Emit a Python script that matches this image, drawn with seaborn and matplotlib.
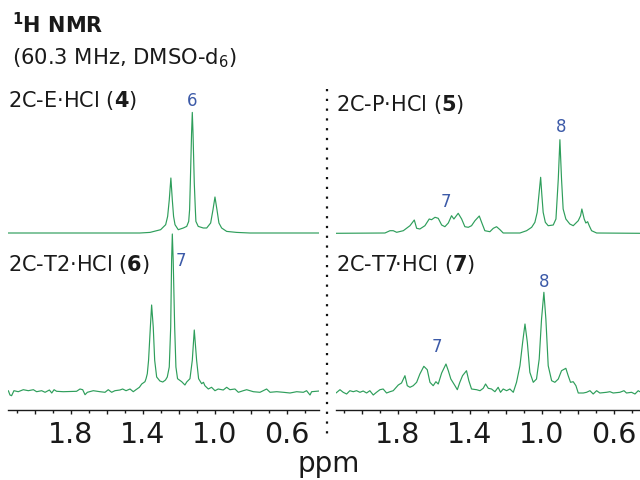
import numpy as np
import pandas as pd
import matplotlib
matplotlib.use("Agg")
import matplotlib.pyplot as plt
import seaborn as sns
from matplotlib.ticker import FixedLocator, FixedFormatter
from matplotlib.lines import Line2D
from matplotlib.transforms import blended_transform_factory

sns.set_style("white")
plt.rcParams['font.family'] = ['DejaVu Sans']
plt.rcParams['mathtext.fontset'] = 'dejavusans'

# ---------------- data ----------------
# 2C-E·HCl (4)
ppm4 = [2.15, 1.417, 1.361, 1.302, 1.274, 1.263, 1.254, 1.245, 1.237, 1.230, 1.222,
        1.204, 1.176, 1.157, 1.146, 1.141, 1.137, 1.130, 1.126, 1.122, 1.115, 1.109,
        1.106, 1.093, 1.065, 1.046, 1.024, 1.011, 1.000, 0.989, 0.978, 0.963, 0.935,
        0.880, 0.806, 0.42]
int4 = [0, 0, 0.6, 3.3, 8.3, 16.6, 33, 55, 33, 16.6, 8.3,
        3.3, 5, 6.6, 11.6, 23.3, 50, 100, 120.6, 100, 50, 23.3,
        11.6, 6.6, 5, 5, 10, 23.3, 36, 23.3, 10, 5, 1.6,
        0.6, 0, 0]

# 2C-P·HCl (5)
ppm5 = [2.144, 1.872, 1.844, 1.826, 1.807, 1.770, 1.733, 1.709, 1.696, 1.678, 1.650,
        1.626, 1.613, 1.594, 1.576, 1.557, 1.539, 1.520, 1.502, 1.489, 1.465, 1.446,
        1.428, 1.409, 1.391, 1.372, 1.348, 1.335, 1.317, 1.289, 1.270, 1.252, 1.233,
        1.215, 1.122, 1.085, 1.057, 1.039, 1.026, 1.017, 1.007, 1.000, 0.993, 0.981,
        0.965, 0.937, 0.922, 0.909, 0.900, 0.891, 0.882, 0.867, 0.845, 0.826, 0.798,
        0.785, 0.778, 0.765, 0.756, 0.746, 0.737, 0.724, 0.696, 0.456]
int5 = [0, 0.3, 2.6, 2.6, 1.0, 2.6, 7.6, 13.3, 5.0, 4.3, 7.6,
        14.3, 13.6, 16.0, 15.0, 8.3, 6.6, 10.3, 17.6, 14.3, 20.0, 14.3,
        6.6, 6.0, 7.6, 12.6, 17.3, 11.0, 2.6, 1.6, 5.0, 6.6, 3.6,
        0.3, 0.3, 2.6, 6, 11, 21, 37.6, 56, 37.6, 21, 11,
        7.6, 8.3, 14.3, 54.3, 93.6, 54.3, 24.3, 14.3, 9.3, 7.6, 12.6,
        17.6, 24.3, 14.3, 10.3, 11.6, 7.6, 2.6, 0.3, 0]

# 2C-T2·HCl (6)
ppm6 = [2.148, 2.139, 2.130, 2.117, 2.093, 2.065, 2.037, 2.009, 1.991, 1.963,
        1.944, 1.920, 1.907, 1.894, 1.880, 1.843, 1.769, 1.750, 1.735, 1.722,
        1.709, 1.676, 1.639, 1.611, 1.593, 1.574, 1.556, 1.528, 1.513, 1.494,
        1.472, 1.454, 1.439, 1.420, 1.407, 1.389, 1.383, 1.376, 1.369, 1.359,
        1.352, 1.343, 1.335, 1.324, 1.306, 1.290, 1.275, 1.265, 1.254, 1.246,
        1.241, 1.237, 1.232, 1.224, 1.217, 1.208, 1.185, 1.167, 1.157, 1.139,
        1.126, 1.115, 1.102, 1.091, 1.074, 1.064, 1.056, 1.037, 1.019, 1.000,
        0.982, 0.954, 0.935, 0.917, 0.889, 0.870, 0.843, 0.824, 0.787, 0.750,
        0.713, 0.694, 0.657, 0.620, 0.583, 0.546, 0.509, 0.491, 0.472, 0.463,
        0.42]
int6 = [0.3, -4, -4.7, 0.3, -0.7, 1.3, 0.3, 1.3, -0.7, 0.3,
        -1.3, 1, -2, 1.3, -0.3, -0.7, -0.3, 2, 1.3, -3.7,
        -1.3, 0.3, -0.7, -1.3, 1.3, -1.3, 0.3, 1, 2, 0.3,
        2, -0.7, 1.3, 3.7, 7, 9.3, 12.3, 17.3, 30.7, 64,
        86, 64, 30.7, 14, 10, 9, 11, 14, 24, 64,
        130, 157, 130, 64, 24, 12.3, 9.3, 6, 9, 12.3,
        30.7, 61, 30.7, 12.3, 7.3, 8.7, 5.3, 2, 3.7, 0.3,
        2, 1, 3.7, 1.3, 2, -1.3, 0.3, 1.3, -0.7, -1.3,
        2, -1.3, -0.7, -1.3, -2, -0.7, -1.3, 0.3, -4, -0.7,
        0]

# 2C-T7·HCl (7)
ppm7 = [2.144, 2.122, 2.104, 2.085, 2.067, 2.048, 2.030, 2.011, 1.993, 1.974,
        1.956, 1.937, 1.919, 1.900, 1.882, 1.863, 1.844, 1.826, 1.798, 1.780,
        1.761, 1.748, 1.733, 1.715, 1.696, 1.678, 1.656, 1.637, 1.622, 1.604,
        1.589, 1.576, 1.557, 1.533, 1.520, 1.506, 1.483, 1.470, 1.456, 1.441,
        1.419, 1.406, 1.391, 1.363, 1.344, 1.326, 1.313, 1.298, 1.280, 1.261,
        1.243, 1.230, 1.215, 1.196, 1.178, 1.159, 1.141, 1.122, 1.107, 1.094,
        1.081, 1.067, 1.048, 1.030, 1.015, 1.002, 0.989, 0.978, 0.965, 0.946,
        0.928, 0.909, 0.891, 0.867, 0.854, 0.841, 0.826, 0.811, 0.798, 0.770,
        0.752, 0.733, 0.715, 0.696, 0.678, 0.641, 0.622, 0.604, 0.567, 0.544,
        0.530, 0.502, 0.483, 0.465, 0.456]
int7 = [-0.7, 2.6, 0, -1.7, 1.6, 0.6, 1.6, 0, 1.3, -0.7,
        1.6, -2.7, 0, 2.6, 3.3, -0.7, 0.6, 1.6, 7.3, 9.3,
        16.6, 6.6, 5, 6.6, 10, 18.3, 26, 22.6, 10, 6.6,
        10.6, 8.3, 19.3, 28.3, 21.6, 13.3, 6.6, 2.6, 10, 16.6,
        21.6, 11.6, 3.3, 2.6, 1.6, 4, 8.3, 4, 3.3, 0.6,
        5, 0, 3.3, 1.6, 3.3, 0, 10, 26.6, 50, 68.3,
        50, 20, 10, 13.3, 33.3, 73.3, 100, 73.3, 26.6, 11.6,
        10, 13.3, 21.6, 24, 16.6, 10, 10.6, 6.6, -0.7, -0.7,
        0, 1.6, -1.7, 1.6, -0.7, 0, 0.6, -0.7, 0, 1.6,
        -0.7, 0, -1.7, 1.6, 0.6]

panel_labels = [r"2C-E·HCl ($\mathbf{4}$)", r"2C-P·HCl ($\mathbf{5}$)",
                r"2C-T2·HCl ($\mathbf{6}$)", r"2C-T7·HCl ($\mathbf{7}$)"]
peak_labels = ["6", "8", "7", "7", "8", "7"]
peak_label_ppm = [1.128, 0.896, 1.533, 1.189, 0.989, 1.585]

tick_vals = [2.0, 1.8, 1.6, 1.4, 1.2, 1.0, 0.8, 0.6]
tick_text = ["", "1.8", "", "1.4", "", "1.0", "", "0.6"]
minor_vals = [2.1, 1.9, 1.7, 1.5, 1.3, 1.1, 0.9, 0.7, 0.5]

# ---------------- layout ----------------
GREEN = "#2e9e5b"
BLUE = "#3c5aa8"
INK = "#1a1a1a"
W, H = 640, 481

def fy(py):
    return 1 - py / H

fig = plt.figure(figsize=(6.4, 4.81), dpi=100)
axL = fig.add_axes([8 / W, 1 - 411 / H, 311 / W, 321 / H])
axR = fig.add_axes([336 / W, 1 - 411 / H, 304 / W, 321 / H])

spectra = [
    (axL, ppm4, int4, 177.0),
    (axL, ppm6, int6, 19.0),
    (axR, ppm5, int5, 176.7),
    (axR, ppm7, int7, 17.7),
]
for ax, p, inten, off in spectra:
    df = pd.DataFrame({"ppm": p, "intensity": inten})
    df["y"] = df["intensity"] + off
    sns.lineplot(data=df, x="ppm", y="y", sort=False, estimator=None,
                 color=GREEN, lw=0.85, ax=ax, legend=False)

for ax, xl in [(axL, (2.15, 0.422)), (axR, (2.144, 0.455))]:
    ax.set_xlim(*xl)
    ax.set_ylim(0, 321)
    ax.set_xlabel("")
    ax.set_ylabel("")
    ax.set_yticks([])
    for s in ["left", "right", "top"]:
        ax.spines[s].set_visible(False)
    ax.spines["bottom"].set_linewidth(1.0)
    ax.spines["bottom"].set_color(INK)
    ax.xaxis.set_major_locator(FixedLocator(tick_vals))
    ax.xaxis.set_major_formatter(FixedFormatter(tick_text))
    ax.xaxis.set_minor_locator(FixedLocator(minor_vals))
    ax.tick_params(axis="x", which="major", bottom=True, length=3.2, width=1.0,
                   color=INK, labelsize=20.5, pad=4.2, labelcolor=INK)
    ax.tick_params(axis="x", which="minor", bottom=True, length=1.8, width=1.0,
                   color=INK)
    ax.patch.set_alpha(0)

# panel labels
label_pos = [(axL, 310), (axR, 307), (axL, 146), (axR, 147)]
for (ax, yv), txt in zip(label_pos, panel_labels):
    tr = blended_transform_factory(ax.transAxes, ax.transData)
    ax.text(0.0, yv, txt, transform=tr, ha="left", va="center",
            fontsize=15, color=INK)

# peak labels
peak_axes = [(axL, 310), (axR, 284), (axR, 209), (axL, 150), (axR, 129), (axR, 64)]
for (ax, yv), txt, pp in zip(peak_axes, peak_labels, peak_label_ppm):
    ax.text(pp, yv, txt, ha="center", va="center", fontsize=12, color=BLUE)

# titles
fig.text(12 / W, fy(33), r"$^{\mathbf{1}}$H NMR", fontsize=15, fontweight="bold",
         ha="left", va="baseline", color=INK)
fig.text(12 / W, fy(64), r"(60.3 MHz, DMSO-d$_6$)", fontsize=15.2,
         ha="left", va="baseline", color=INK)
fig.text(328.5 / W, fy(472), "ppm", fontsize=20, ha="center", va="baseline",
         color=INK)

# dotted separator
fig.add_artist(Line2D([326.5 / W, 326.5 / W], [fy(90), fy(442)],
                      transform=fig.transFigure, color="#111111", lw=1.6,
                      dashes=(1, 3.4), solid_capstyle="butt"))

fig.savefig("out.png", dpi=100)
